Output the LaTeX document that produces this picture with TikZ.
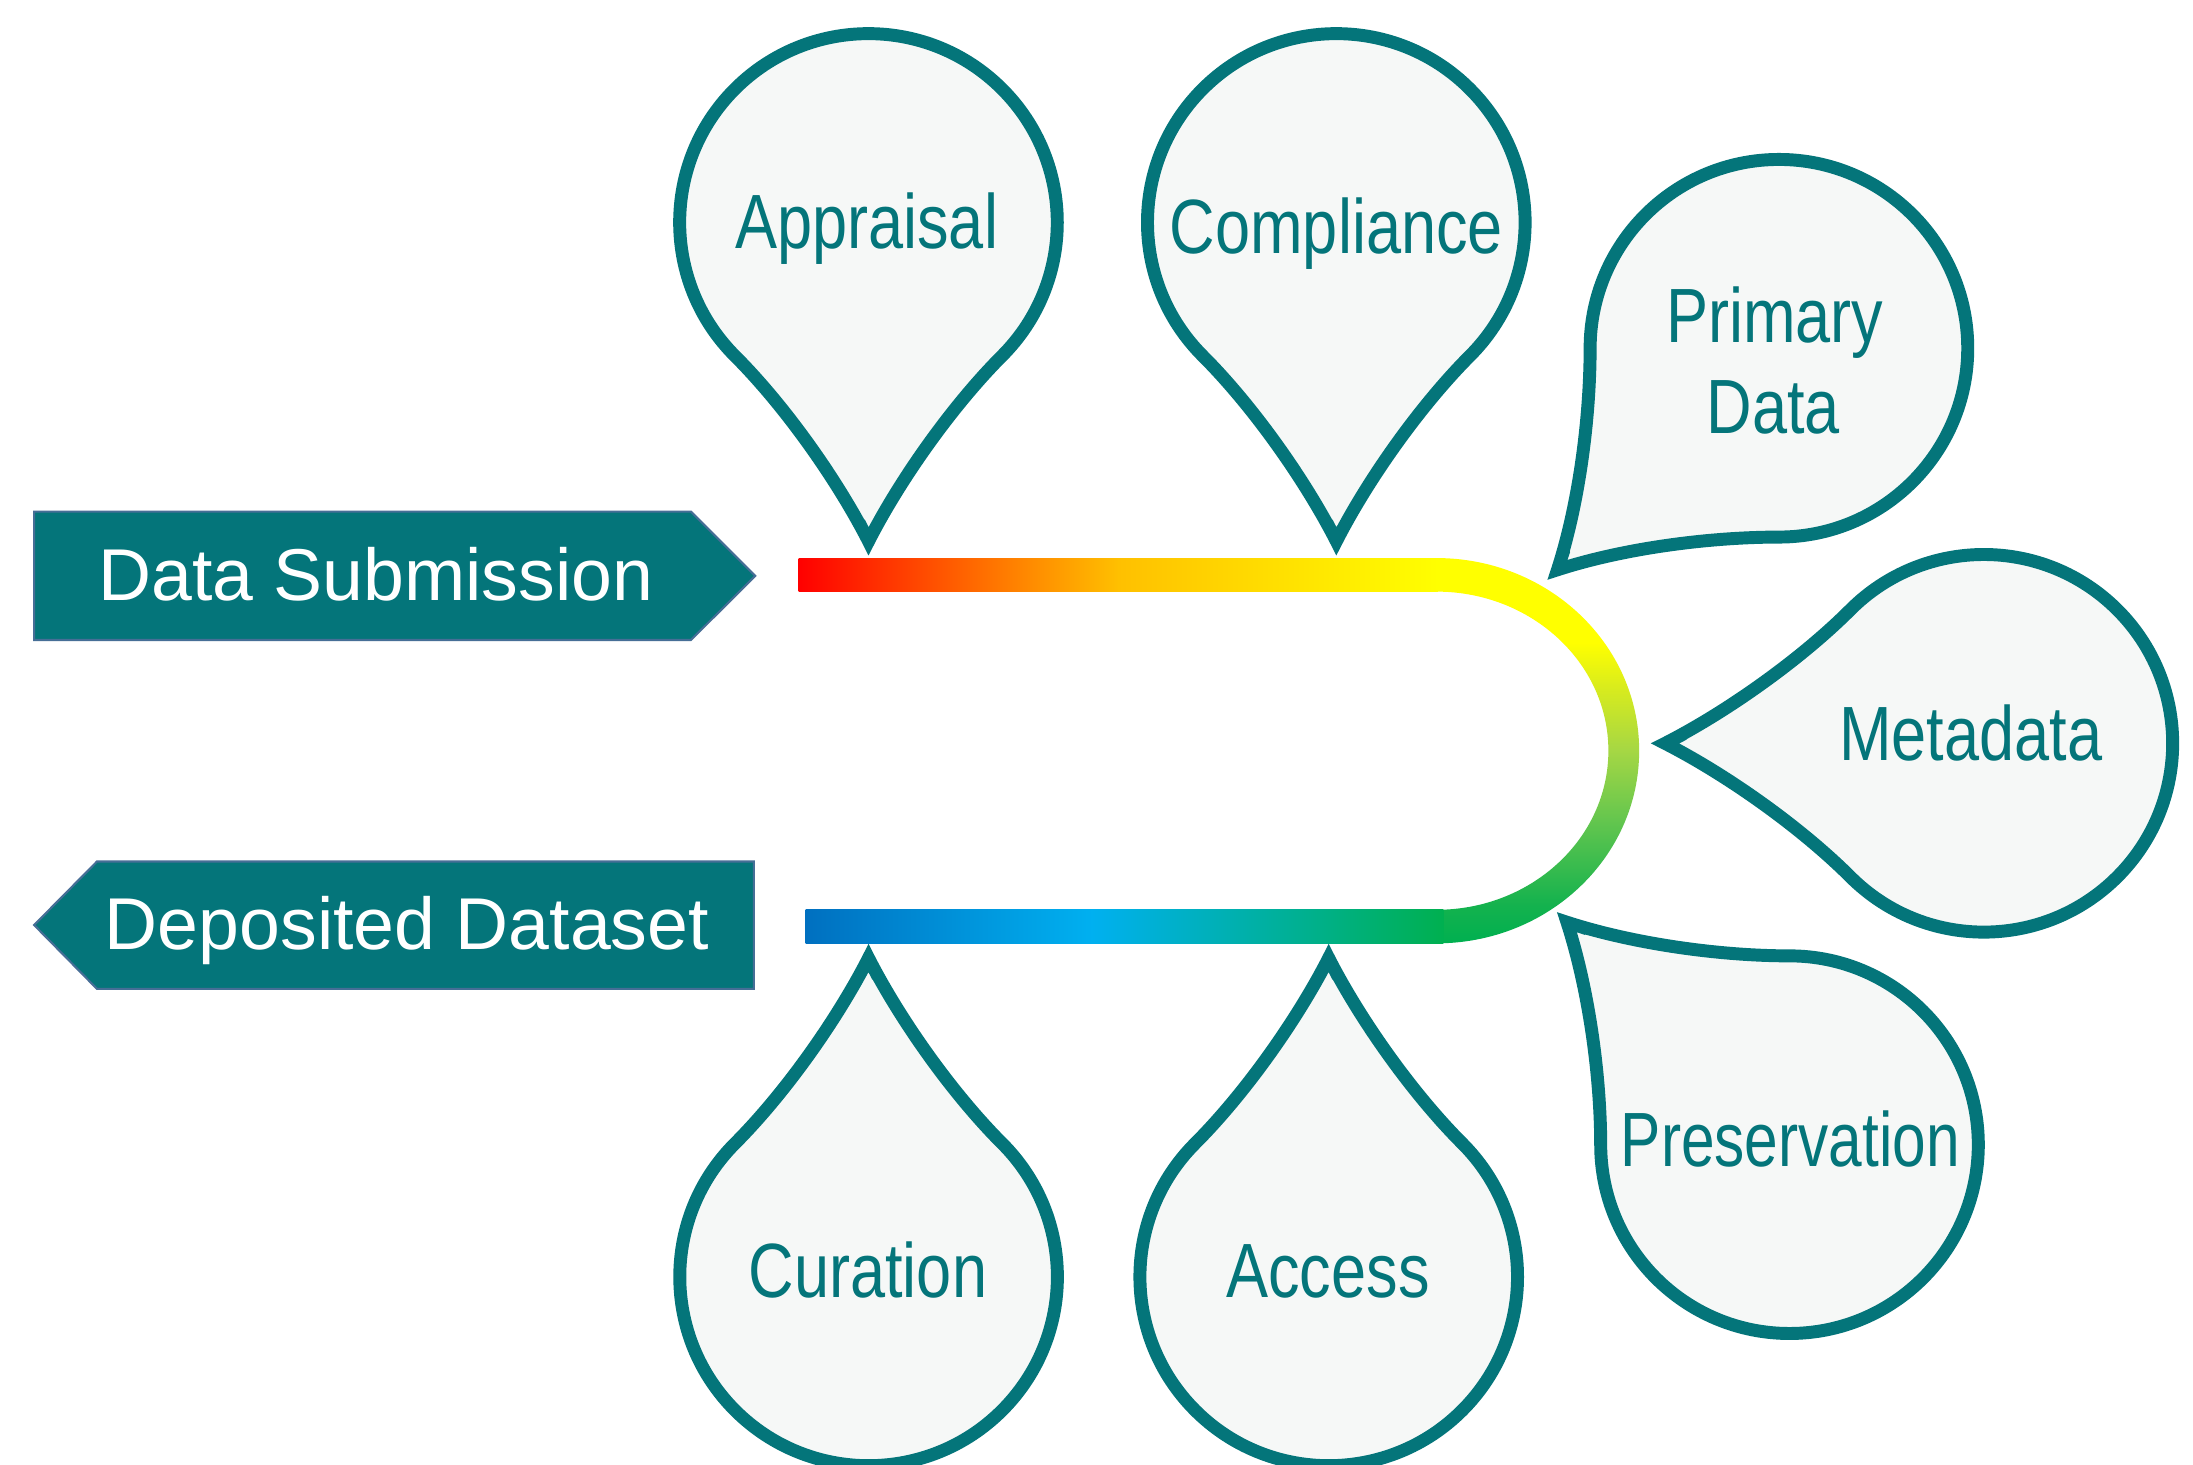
\documentclass[tikz,border=0pt]{standalone}
\usepackage{fontspec}
\setmainfont{Liberation Sans}
\newfontfamily\pinfont[FakeStretch=0.82]{Liberation Sans}
\newfontfamily\pinfontnarrow[FakeStretch=0.785]{Liberation Sans}

\definecolor{pinteal}{RGB}{4,117,122}
\definecolor{pinfill}{RGB}{246,248,247}
\definecolor{banneredge}{RGB}{70,110,150}
\definecolor{gold}{RGB}{255,192,0}
\definecolor{deepblue}{RGB}{0,112,192}
\definecolor{skyblue}{RGB}{0,176,240}
\definecolor{leafgreen}{RGB}{0,176,80}

% yellow at the top of the turn, green at the bottom
\pgfdeclareverticalshading{turnshade}{100bp}{%
  rgb(0bp)=(0,0.690,0.314); rgb(25bp)=(0,0.690,0.314);
  rgb(30bp)=(0.078,0.698,0.306); rgb(41bp)=(0.392,0.776,0.306);
  rgb(50bp)=(0.647,0.843,0.267); rgb(58bp)=(0.843,0.922,0.118);
  rgb(64bp)=(1,1,0); rgb(100bp)=(1,1,0)}

\tikzset{
  pin/.style={draw=pinteal, fill=pinfill, line width=3.7pt, line join=miter},
  pinlabel/.style={text=pinteal, font=\pinfont\fontsize{22pt}{26pt}\selectfont,
                   anchor=base, inner sep=0pt},
  banner/.style={fill=pinteal, draw=banneredge, line width=0.6pt},
  bannerlabel/.style={text=white, font=\fontsize{21pt}{25pt}\selectfont,
                      anchor=base, inner sep=0pt},
}

% teardrop pin: [length of the point] centre x, centre y,
% direction of the point (y axis downwards).
% The outline runs once round and then a little past the point again,
% so that the point is an ordinary miter corner.
\newcommand{\pinshape}[4][228]{%
  \begin{scope}[shift={(#2,#3)}, rotate=-#4]
    \pgfmathsetmacro{\pinback}{#1-44.5}
    \pgfmathsetmacro{\pinlap}{#1-13.4}
    \path[pin] (#1,0) .. controls (\pinback,22.7) and (130.9,60.1) .. (95.5,95.5)
      arc[start angle=45, end angle=315, radius=135]
      .. controls (130.9,-60.1) and (\pinback,-22.7) .. (#1,0)
      -- (\pinlap,6.8);
  \end{scope}}

\begin{document}
\begin{tikzpicture}[x=0.4pt, y=-0.4pt]
  \useasboundingbox (0,0) rectangle (1568,1047);
  \fill[white] (0,0) rectangle (1568,1047);
  \clip (0,0) rectangle (1568,1047);

  % colour band: outgoing run, turn, return run
  \shade[left color=red, right color=gold] (571,399) rectangle (800,423);
  \shade[left color=gold, right color=yellow] (799.5,399) rectangle (1028,423);
  \shade[shading=turnshade]
    (1027,399) arc[start angle=-90, end angle=90, x radius=145, y radius=137.75]
    -- (1027,650.5) arc[start angle=90, end angle=-90, x radius=123, y radius=113.75]
    -- cycle;
  \shade[left color=deepblue, right color=skyblue] (576,650.5) rectangle (781,674.5);
  \shade[left color=skyblue, right color=leafgreen] (780.5,650.5) rectangle (1032,674.5);

  % banners
  \path[banner] (24.4,365.8) -- (494,365.8) -- (540,411.8) -- (494,457.6)
    -- (24.4,457.6) -- cycle;
  \node[bannerlabel] (submission) at (268.7,429.5) {Data Submission};
  \path[banner] (69.3,616) -- (539,616) -- (539,707) -- (69.3,707)
    -- (24.4,661.4) -- cycle;
  \node[bannerlabel] (deposited) at (291,679) {Deposited Dataset};

  % pins
  \pinshape{621}{159}{90}
  \node[pinlabel] (appraisal) at (619.6,178) {Appraisal};
  \pinshape{955.5}{159}{90}
  \node[pinlabel] (compliance) at (955.5,181) {Compliance};
  \pinshape[224]{1272}{249}{135}
  \node[pinlabel] (primary) at (1269,245) {Primary};
  \node[pinlabel] (primarydata) at (1268,309.7) {Data};
  \pinshape{1418.5}{531.5}{180}
  \node[pinlabel] (metadata) at (1409,544) {Metadata};
  \pinshape[225]{1279.5}{818.5}{225}
  \node[pinlabel, font=\pinfontnarrow\fontsize{22pt}{26pt}\selectfont]
    (preservation) at (1280,833.7) {Preservation};
  \pinshape{621}{913}{270}
  \node[pinlabel] (curation) at (620.6,927.4) {Curation};
  \pinshape{950}{913}{270}
  \node[pinlabel] (access) at (949.5,928) {Access};
\end{tikzpicture}
\end{document}
